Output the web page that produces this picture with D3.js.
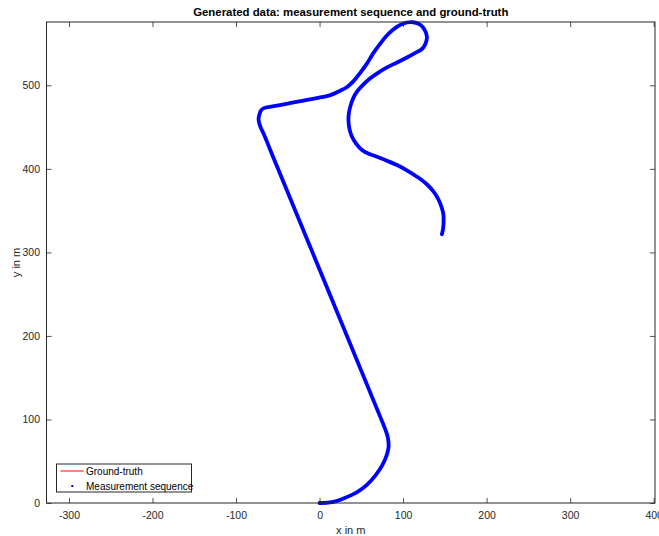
<!DOCTYPE html>
<html>
<head>
<meta charset="utf-8">
<script src="https://cdn.jsdelivr.net/npm/d3@7/dist/d3.min.js"></script>
<style>
  html, body { margin: 0; padding: 0; background: #fff; }
  svg { display: block; font-family: "Liberation Sans", Arial, Helvetica, sans-serif; }
</style>
</head>
<body>
<svg id="chart" width="659" height="536"></svg>
<script>
// Trajectory samples (x, y in metres)
const trackX = [0, 15, 30, 45, 57, 67, 75, 80, 82.6, 82, 79.5, 76,
  -59, -66, -71, -73, -72, -70, -66, -58,
  0.8, 12, 24.8, 33, 40.7, 48, 56.7, 64, 72.7, 80, 88.6, 96, 104.6, 112, 120.6, 126, 128.6, 126.5, 122.6, 114, 104.6, 92, 80.7, 70, 60.7, 52, 44.8, 40, 36.8, 34.9, 34.7, 36, 38.8, 44, 50.8, 59, 68.7, 80, 92.7, 105, 116.6, 127.5, 136.5, 142.5, 146.5, 148.3, 148.5, 148, 146.5];
const trackY = [0, 1, 6, 13, 22, 33, 45, 56, 67, 77, 86, 95,
  422.6, 440, 451, 459, 465, 470, 473, 474.5,
  485.5, 488, 493.5, 498, 505, 514, 526, 538, 550, 559, 567, 572, 575.2, 575.5, 572.5, 566, 557.5, 549, 543.5, 538.5, 533.3, 527, 521.4, 515, 508.4, 500.5, 492.4, 484, 474.5, 465, 456.5, 447, 438.5, 430, 422.6, 418, 414.6, 410, 404.6, 398, 390.6, 382.5, 372.7, 363, 352.8, 345, 336.8, 329, 321.7];

const xTicks = [-300, -200, -100, 0, 100, 200, 300, 400];
const yTicks = [0, 100, 200, 300, 400, 500];
const legendLabels = ["Ground-truth", "Measurement sequence"];

(function () {
  const svg = d3.select("#chart");
  const mL = 46.5, mR = 655, mT = 22, mB = 503;
  const x = d3.scaleLinear().domain([-326.9, 401.6]).range([mL, mR]);
  const y = d3.scaleLinear().domain([0, 575.8]).range([mB, mT]);

  const axisColor = "#262626";
  const pts = trackX.map((v, i) => [v, trackY[i]]);
  const fmt = d => String(d);

  const line = d3.line().x(d => x(d[0])).y(d => y(d[1])).curve(d3.curveCatmullRom.alpha(0.5));

  // ground truth (red) under the measurement trace
  svg.append("path").attr("d", line(pts)).attr("fill", "none")
    .attr("stroke", "#ff0000").attr("stroke-width", 1);

  // measurement sequence: dense blue markers form a thick trace
  svg.append("path").attr("d", line(pts)).attr("fill", "none")
    .attr("stroke", "#0000ff").attr("stroke-width", 3.8)
    .attr("stroke-linejoin", "round").attr("stroke-linecap", "round");

  // axes with inward ticks, mirrored on the opposite sides
  const tl = 5;
  const gx = svg.append("g").attr("transform", `translate(0,${mB})`)
    .call(d3.axisBottom(x).tickValues(xTicks).tickFormat(fmt).tickSizeInner(-tl).tickSizeOuter(0).tickPadding(9));
  const gxt = svg.append("g").attr("transform", `translate(0,${mT})`)
    .call(d3.axisTop(x).tickValues(xTicks).tickSizeInner(-tl).tickSizeOuter(0).tickFormat(""));
  const gy = svg.append("g").attr("transform", `translate(${mL},0)`)
    .call(d3.axisLeft(y).tickValues(yTicks).tickFormat(fmt).tickSizeInner(-tl).tickSizeOuter(0).tickPadding(6.5));
  const gyr = svg.append("g").attr("transform", `translate(${mR},0)`)
    .call(d3.axisRight(y).tickValues(yTicks).tickSizeInner(-tl).tickSizeOuter(0).tickFormat(""));

  [gx, gxt, gy, gyr].forEach(g => {
    g.select(".domain").remove();
    g.selectAll("line").attr("stroke", axisColor).attr("stroke-width", 0.8);
    g.selectAll("text").attr("fill", axisColor).style("font-size", "10.5px")
      .style("font-family", '"Liberation Sans", Arial, sans-serif');
  });

  // box
  svg.append("rect").attr("x", mL).attr("y", mT)
    .attr("width", mR - mL).attr("height", mB - mT)
    .attr("fill", "none").attr("stroke", axisColor).attr("stroke-width", 1);

  // title and axis labels
  svg.append("text").attr("x", (mL + mR) / 2).attr("y", 16)
    .attr("text-anchor", "middle").attr("font-weight", "bold").attr("font-size", 11.4)
    .attr("fill", "#000").text("Generated data: measurement sequence and ground-truth");
  svg.append("text").attr("x", (mL + mR) / 2).attr("y", 534)
    .attr("text-anchor", "middle").attr("font-size", 11).attr("fill", axisColor).text("x in m");
  svg.append("text").attr("transform", `translate(20,${(mT + mB) / 2}) rotate(-90)`)
    .attr("text-anchor", "middle").attr("font-size", 11).attr("fill", axisColor).text("y in m");

  // legend
  const lg = svg.append("g");
  lg.append("rect").attr("x", 56.5).attr("y", 464).attr("width", 135).attr("height", 28)
    .attr("fill", "#fff").attr("stroke", axisColor).attr("stroke-width", 1);
  lg.append("line").attr("x1", 60.5).attr("x2", 83.5).attr("y1", 471).attr("y2", 471)
    .attr("stroke", "#ff0000").attr("stroke-width", 1);
  lg.append("rect").attr("x", 71.3).attr("y", 485).attr("width", 2).attr("height", 2).attr("fill", "#0000ff");
  lg.selectAll("text.lab").data(legendLabels).enter().append("text").attr("class", "lab")
    .attr("x", 86).attr("y", (d, i) => 474.5 + i * 15)
    .attr("font-size", 10).attr("fill", "#000").text(d => d);
})();
</script>
</body>
</html>
